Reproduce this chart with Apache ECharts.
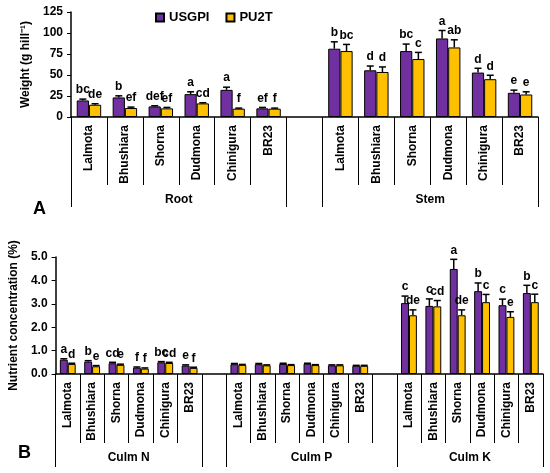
<!DOCTYPE html>
<html>
<head>
<meta charset="utf-8">
<script src="https://cdn.jsdelivr.net/npm/echarts@6/dist/echarts.min.js"></script>
<style>
  html, body { margin: 0; padding: 0; background: #fff; }
  #chart { width: 550px; height: 473px; }
</style>
</head>
<body>
<div id="chart"></div>
<script>
// varieties and groups
const varieties = ['Lalmota', 'Bhushiara', 'Shorna', 'Dudmona', 'Chinigura', 'BR23'];
const topGroups = ['Root', '', 'Stem'];
const topGroupSizes = [6, 1, 6];
const bottomGroups = ['Culm N', '', 'Culm P', 'Culm K'];
const bottomGroupSizes = [6, 1, 7, 6];

// panel A: weight (g hill-1)
const rootUSGPI = [19.7, 23.3, 12.6, 27.2, 32.3, 10.3];
const rootUSGPIErr = [1.6, 1.9, 0.8, 2.8, 3.2, 1.1];
const rootUSGPILetters = ['bc', 'b', 'def', 'a', 'a', 'ef'];
const rootPU2T = [14.6, 10.7, 10.3, 16.2, 9.9, 9.9];
const rootPU2TErr = [1.2, 1.1, 1.1, 0.8, 0.7, 0.7];
const rootPU2TLetters = ['de', 'ef', 'ef', 'cd', 'f', 'f'];
const stemUSGPI = [81.3, 55.6, 78.5, 93.5, 52.9, 28.8];
const stemUSGPIErr = [8.2, 5.1, 8.3, 9.5, 5.1, 3.2];
const stemUSGPILetters = ['b', 'd', 'bc', 'a', 'd', 'e'];
const stemPU2T = [78.5, 53.6, 69.0, 82.8, 45.0, 26.8];
const stemPU2TErr = [7.9, 6.0, 7.9, 9.1, 4.7, 3.2];
const stemPU2TLetters = ['bc', 'd', 'c', 'ab', 'd', 'e'];

// panel B: nutrient concentration (%)
const nUSGPI = [0.61, 0.53, 0.46, 0.27, 0.50, 0.36];
const nUSGPIErr = [0.04, 0.04, 0.04, 0.03, 0.03, 0.03];
const nUSGPILetters = ['a', 'b', 'cd', 'f', 'bc', 'e'];
const nPU2T = [0.43, 0.33, 0.39, 0.23, 0.47, 0.26];
const nPU2TErr = [0.03, 0.03, 0.03, 0.03, 0.03, 0.03];
const nPU2TLetters = ['d', 'e', 'e', 'f', 'cd', 'f'];
const pUSGPI = [0.42, 0.42, 0.43, 0.44, 0.37, 0.35];
const pUSGPIErr = [0.03, 0.03, 0.03, 0.02, 0.02, 0.02];
const pUSGPILetters = ['', '', '', '', '', ''];
const pPU2T = [0.39, 0.37, 0.38, 0.38, 0.37, 0.35];
const pPU2TErr = [0.02, 0.02, 0.02, 0.02, 0.02, 0.02];
const pPU2TLetters = ['', '', '', '', '', ''];
const kUSGPI = [3.03, 2.91, 4.49, 3.54, 2.94, 3.46];
const kUSGPIErr = [0.30, 0.30, 0.41, 0.35, 0.26, 0.33];
const kUSGPILetters = ['c', 'c', 'a', 'b', 'c', 'b'];
const kPU2T = [2.51, 2.89, 2.51, 3.07, 2.44, 3.07];
const kPU2TErr = [0.23, 0.25, 0.23, 0.33, 0.22, 0.34];
const kPU2TLetters = ['de', 'cd', 'de', 'c', 'e', 'c'];

const topTicks = [0, 25, 50, 75, 100, 125];
const bottomTicks = [0, 1, 2, 3, 4, 5];

const PURPLE = '#7030A0';
const GOLD = '#FFC000';
const FONT = 'Arial, "Liberation Sans", sans-serif';

// categories with an empty slot between groups
const topCats = [...varieties, '', ...varieties];
const bottomCats = [...varieties, '', ...varieties, '', ...varieties];
const GAP = '-';
const topUSGPI = [...rootUSGPI, GAP, ...stemUSGPI];
const topPU2T = [...rootPU2T, GAP, ...stemPU2T];
const botUSGPI = [...nUSGPI, GAP, ...pUSGPI, GAP, ...kUSGPI];
const botPU2T = [...nPU2T, GAP, ...pPU2T, GAP, ...kPU2T];

const topUSGPIE = [...rootUSGPIErr, GAP, ...stemUSGPIErr];
const topPU2TE = [...rootPU2TErr, GAP, ...stemPU2TErr];
const botUSGPIE = [...nUSGPIErr, GAP, ...pUSGPIErr, GAP, ...kUSGPIErr];
const botPU2TE = [...nPU2TErr, GAP, ...pPU2TErr, GAP, ...kPU2TErr];

const topUSGPIL = [...rootUSGPILetters, '', ...stemUSGPILetters];
const topPU2TL = [...rootPU2TLetters, '', ...stemPU2TLetters];
const botUSGPIL = [...nUSGPILetters, '', ...pUSGPILetters, '', ...kUSGPILetters];
const botPU2TL = [...nPU2TLetters, '', ...pPU2TLetters, '', ...kPU2TLetters];

// group boundaries and centres on a 0..n value axis
function groupMarks(sizes) {
  const bounds = [0];
  const centers = [];
  sizes.forEach((s) => {
    const start = bounds[bounds.length - 1];
    centers.push(start + s / 2);
    bounds.push(start + s);
  });
  return { bounds, centers };
}
const topMarks = groupMarks(topGroupSizes);
const botMarks = groupMarks(bottomGroupSizes);

const TOP_GAP = 0.32;
const BOT_GAP = 0.35;

function errSeries(gridIdx, values, errs, letters, side, gapFrac) {
  const data = [];
  values.forEach((v, i) => {
    if (v === GAP) return;
    data.push([i, v, errs[i], i]);
  });
  return {
    type: 'custom',
    xAxisIndex: gridIdx * 2,
    yAxisIndex: gridIdx,
    data: data,
    z: 5,
    silent: true,
    renderItem: (params, api) => {
      const idx = api.value(0);
      const v = api.value(1);
      const e = api.value(2);
      const band = api.size([1, 0])[0];
      const barW = band * (1 - gapFrac) / 2;
      const base = api.coord([idx, v]);
      const top = api.coord([idx, v + e]);
      const x = base[0] + side * barW / 2;
      const cap = 3.5;
      const children = [
        { type: 'line', shape: { x1: x, y1: base[1], x2: x, y2: top[1] }, style: { stroke: '#000', lineWidth: 1.5 } },
        { type: 'line', shape: { x1: x - cap, y1: top[1], x2: x + cap, y2: top[1] }, style: { stroke: '#000', lineWidth: 1.5 } }
      ];
      const txt = letters[api.value(3)];
      if (txt) {
        children.push({
          type: 'text',
          style: {
            text: txt, x: x, y: top[1] - 3,
            align: 'center', verticalAlign: 'bottom',
            fill: '#000', font: 'bold 12px ' + FONT
          }
        });
      }
      return { type: 'group', children: children };
    }
  };
}

const chart = echarts.init(document.getElementById('chart'));

const catAxis = (gridIndex, cats, tickLen) => ({
  type: 'category',
  gridIndex: gridIndex,
  data: cats,
  position: 'bottom',
  axisLine: { lineStyle: { color: '#000', width: 1.5 } },
  axisTick: { show: true, interval: 0, length: tickLen, lineStyle: { color: '#000', width: 1 } },
  axisLabel: { interval: 0, rotate: 90, margin: 8, color: '#000', fontWeight: 'bold', fontSize: 12, fontFamily: FONT },
  splitLine: { show: false }
});

const groupAxis = (gridIndex, n, marks, names, tickLen, labelMargin) => ({
  type: 'value',
  gridIndex: gridIndex,
  position: 'bottom',
  min: 0,
  max: n,
  axisLine: { show: false },
  splitLine: { show: false },
  axisTick: { show: true, customValues: marks.bounds, length: tickLen, lineStyle: { color: '#000', width: 1 } },
  axisLabel: {
    customValues: marks.centers,
    margin: labelMargin,
    color: '#000', fontWeight: 'bold', fontSize: 12, fontFamily: FONT,
    formatter: (val) => {
      const k = marks.centers.findIndex((c) => Math.abs(c - val) < 1e-6);
      return k >= 0 ? names[k] : '';
    }
  }
});

const valAxis = (gridIndex, ticks, name, nameGap, fmt) => ({
  type: 'value',
  gridIndex: gridIndex,
  min: ticks[0],
  max: ticks[ticks.length - 1],
  interval: ticks[1] - ticks[0],
  name: name,
  nameLocation: 'middle',
  nameGap: nameGap,
  nameTextStyle: { color: '#000', fontWeight: 'bold', fontSize: 12, fontFamily: FONT },
  axisLine: { show: true, lineStyle: { color: '#000', width: 1.5 } },
  axisTick: { show: true, length: 4, lineStyle: { color: '#000' } },
  axisLabel: { color: '#000', fontWeight: 'bold', fontSize: 12, fontFamily: FONT, margin: 8, formatter: fmt },
  splitLine: { show: false }
});

const barItem = (color) => ({ color: color, borderColor: '#000', borderWidth: 1 });

chart.setOption({
  animation: false,
  backgroundColor: '#fff',
  title: [
    { text: 'A', left: 28, top: 195, textStyle: { fontSize: 18, fontWeight: 'bold', color: '#000', fontFamily: FONT } },
    { text: 'B', left: 13, top: 439, textStyle: { fontSize: 18, fontWeight: 'bold', color: '#000', fontFamily: FONT } }
  ],
  legend: {
    data: ['USGPI', 'PU2T'],
    left: 150,
    top: 6,
    icon: 'rect',
    itemWidth: 8,
    itemHeight: 8,
    itemGap: 16,
    textStyle: { color: '#000', fontWeight: 'bold', fontSize: 13, fontFamily: FONT }
  },
  grid: [
    { left: 71, top: 12, width: 467, height: 105 },
    { left: 53, top: 257, width: 490, height: 117 }
  ],
  xAxis: [
    catAxis(0, topCats, 68),
    groupAxis(0, topCats.length, topMarks, topGroups, 90, 77),
    catAxis(1, bottomCats, 69),
    groupAxis(1, bottomCats.length, botMarks, bottomGroups, 93, 78)
  ],
  yAxis: [
    valAxis(0, topTicks, 'Weight (g hill\u207B\u00B9)', 26, (v) => String(v)),
    valAxis(1, bottomTicks, 'Nutrient concentration (%)', 33, (v) => v.toFixed(1))
  ],
  series: [
    { name: 'USGPI', type: 'bar', xAxisIndex: 0, yAxisIndex: 0, data: topUSGPI, barGap: '0%', barCategoryGap: '32%', itemStyle: barItem(PURPLE) },
    { name: 'PU2T', type: 'bar', xAxisIndex: 0, yAxisIndex: 0, data: topPU2T, barGap: '0%', barCategoryGap: '32%', itemStyle: barItem(GOLD) },
    { name: 'USGPI', type: 'bar', xAxisIndex: 2, yAxisIndex: 1, data: botUSGPI, barGap: '0%', barCategoryGap: '35%', itemStyle: barItem(PURPLE) },
    { name: 'PU2T', type: 'bar', xAxisIndex: 2, yAxisIndex: 1, data: botPU2T, barGap: '0%', barCategoryGap: '35%', itemStyle: barItem(GOLD) },
    errSeries(0, topUSGPI, topUSGPIE, topUSGPIL, -1, TOP_GAP),
    errSeries(0, topPU2T, topPU2TE, topPU2TL, 1, TOP_GAP),
    errSeries(1, botUSGPI, botUSGPIE, botUSGPIL, -1, BOT_GAP),
    errSeries(1, botPU2T, botPU2TE, botPU2TL, 1, BOT_GAP)
  ]
});
</script>
</body>
</html>
